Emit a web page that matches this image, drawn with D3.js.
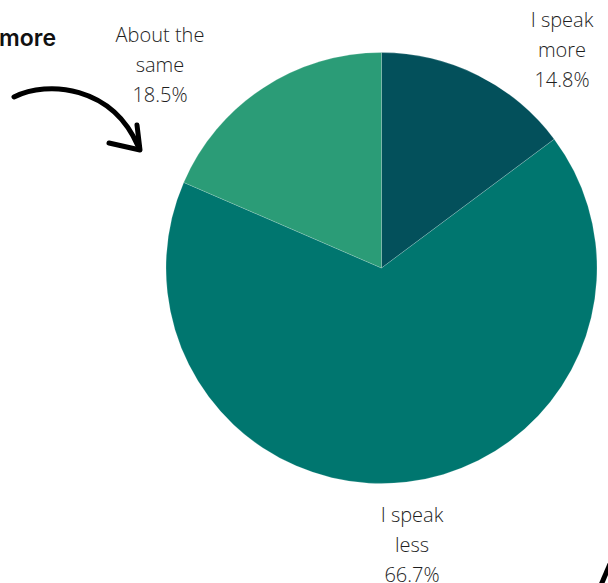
<!DOCTYPE html>
<html>
<head>
<meta charset="utf-8">
<script src="https://cdn.jsdelivr.net/npm/d3@7"></script>
<style>
  html, body { margin: 0; padding: 0; background: #ffffff; }
  svg { display: block; }
</style>
</head>
<body>
<svg id="chart" width="608" height="583"></svg>
<script>
// Survey answers, clockwise from 12 o'clock
const categories = ["I speak more", "I speak less", "About the same"];
const shares = [14.8, 66.7, 18.5];
const sliceColors = ["#03505b", "#00766f", "#2b9c77"];
// Label text lines for each answer
const labelLines = [
  ["I speak", "more"],
  ["I speak", "less"],
  ["About the", "same"]
];

const W = 608, H = 583;
const cx = 381.5, cy = 268, radius = 215.5;
// Anchor points (top line baseline) for each label block
const labelAnchors = [[562, 27], [412, 522], [160, 42]];
const lineHeight = 30;

const svg = d3.select("#chart");

const data = categories.map((c, i) => ({ name: c, value: shares[i], color: sliceColors[i], lines: labelLines[i], anchor: labelAnchors[i] }));

const pie = d3.pie().sort(null).value(d => d.value);
const arc = d3.arc().innerRadius(0).outerRadius(radius);

const g = svg.append("g").attr("transform", `translate(${cx},${cy})`);
g.selectAll("path.slice")
  .data(pie(data))
  .join("path")
  .attr("class", "slice")
  .attr("d", arc)
  .attr("fill", d => d.data.color)
  .attr("stroke", "rgba(255,255,255,0.35)")
  .attr("stroke-width", 0.5);

const fmt = d3.format(".1f");
const labels = svg.selectAll("text.label")
  .data(data)
  .join("text")
  .attr("class", "label")
  .attr("text-anchor", "middle")
  .attr("font-family", "'Open Sans', sans-serif")
  .attr("font-weight", 300)
  .attr("font-size", 20)
  .attr("fill", "#1e1e1e");

labels.each(function(d) {
  const t = d3.select(this);
  const lines = d.lines.concat([fmt(d.value) + "%"]);
  lines.forEach((ln, i) => {
    t.append("tspan")
      .attr("x", d.anchor[0])
      .attr("y", d.anchor[1] + i * lineHeight)
      .text(ln);
  });
});

// Annotation: heading fragment and hand-drawn arrow
svg.append("text")
  .attr("x", 56)
  .attr("y", 46)
  .attr("text-anchor", "end")
  .attr("font-family", "Inter, 'Noto Sans', sans-serif")
  .attr("font-weight", 600)
  .attr("font-size", 23)
  .attr("fill", "#111111")
  .text("more");

svg.append("path")
  .attr("d", "M14,97 C48,80 112,86 138,146")
  .attr("fill", "none")
  .attr("stroke", "#000000")
  .attr("stroke-width", 5)
  .attr("stroke-linecap", "round");

svg.append("path")
  .attr("d", "M109,143 L140,150 L137,125")
  .attr("fill", "none")
  .attr("stroke", "#000000")
  .attr("stroke-width", 5)
  .attr("stroke-linecap", "round")
  .attr("stroke-linejoin", "round");

// Edge of a second arrow entering from the lower right
svg.append("path")
  .attr("d", "M601,585 L610,564")
  .attr("fill", "none")
  .attr("stroke", "#000000")
  .attr("stroke-width", 5);
</script>
</body>
</html>
